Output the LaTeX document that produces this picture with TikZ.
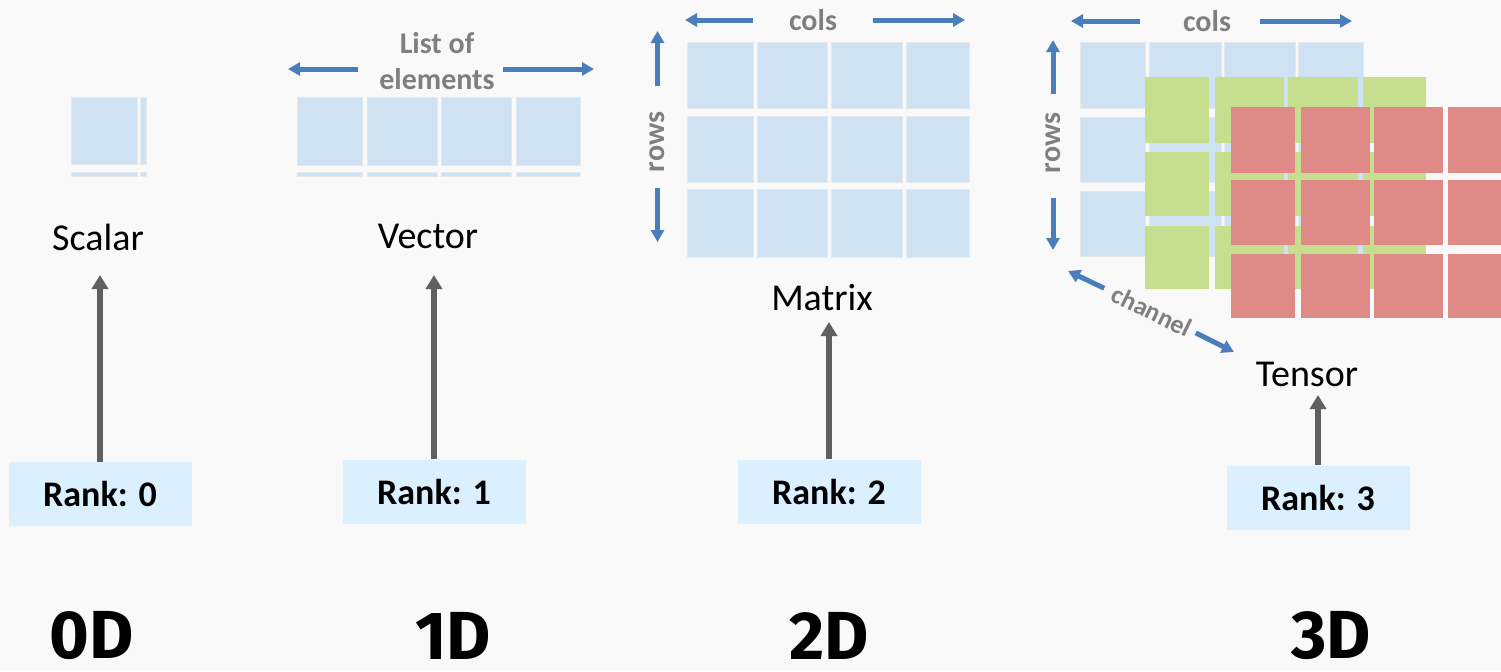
\documentclass[tikz,border=0pt]{standalone}
\usepackage{fontspec}
\setmainfont{Carlito}
\newfontfamily\dimfont{Fira Sans}
\usetikzlibrary{arrows.meta}
\definecolor{Paper}{HTML}{F9F9F9}
\definecolor{CellBlue}{HTML}{CFE2F3}
\definecolor{CellEdge}{HTML}{E6E9EC}
\definecolor{CellGreen}{HTML}{C5DF8F}
\definecolor{CellRed}{HTML}{E08A87}
\definecolor{RankFill}{HTML}{DBF0FE}
\definecolor{Shaft}{HTML}{606060}
\definecolor{Axis}{HTML}{4A7EBB}
\definecolor{Hint}{HTML}{7F7F7F}
\tikzset{
  cell/.style={fill=CellBlue, draw=CellEdge, line width=0.4pt},
  gcell/.style={fill=CellGreen},
  rcell/.style={fill=CellRed},
  kind/.style={font=\fontsize{19}{22}\selectfont, inner sep=0pt},
  rank/.style={fill=RankFill, minimum width=91.5pt, minimum height=32pt,
               inner sep=0pt, font=\bfseries\fontsize{18}{21}\selectfont},
  dim/.style={font=\dimfont\bfseries\fontsize{34}{37}\selectfont, inner sep=0pt},
  hint/.style={text=Hint, font=\bfseries\fontsize{15}{18}\selectfont,
               inner sep=0pt, align=center},
  riser/.style={-{Triangle[length=7pt,width=8pt]}, line width=3pt, draw=Shaft},
  axis/.style={-{Triangle[length=6pt,width=6.5pt]}, line width=2.5pt, draw=Axis},
}

\begin{document}
\begin{tikzpicture}[x=0.5pt, y=-0.5pt]
  \fill[Paper] (0,0) rectangle (1501,671);
  \useasboundingbox (0,0) rectangle (1501,671);

  % 0D
  \fill[cell] (71,97) rectangle (137,164);
  \fill[cell] (140,97) rectangle (146,164);
  \foreach \xa/\xb in {71/137,140/146}
    \fill[cell] (\xa,172) rectangle (\xb,176);
  % 1D
  \foreach \xa/\xb in {297/362,367/437,441/511,516/580} {
    \fill[cell] (\xa,97) rectangle (\xb,165);
    \fill[cell] (\xa,172) rectangle (\xb,176);
  }
  % 2D
  \foreach \xa/\xb in {687/753,757/827,831/902,906/969}
    \foreach \ya/\yb in {42/108,116/182,189/257}
      \fill[cell] (\xa,\ya) rectangle (\xb,\yb);
  % 3D
  \foreach \xa/\xb in {1080/1145,1149/1221,1224/1295,1298/1363}
    \foreach \ya/\yb in {42/108,117/182,191/256}
      \fill[cell] (\xa,\ya) rectangle (\xb,\yb);
  \foreach \xa/\xb in {1145/1209,1215/1284,1288/1358,1363/1426}
    \foreach \ya/\yb in {77/143,152/216,226/289}
      \fill[gcell] (\xa,\ya) rectangle (\xb,\yb);
  \foreach \xa/\xb in {1231/1295,1301/1370,1374/1443,1448/1501}
    \foreach \ya/\yb in {107/173,180/245,254/318}
      \fill[rcell] (\xa,\ya) rectangle (\xb,\yb);

  \node[kind] (scalar) at (98,237) {Scalar};
  \node[kind] (vector) at (428,236) {Vector};
  \node[kind] (matrix) at (822,298) {Matrix};
  \node[kind] (tensor) at (1307,374) {Tensor};

  \node[rank] (r0) at (100,494) {Rank: 0};
  \node[rank] (r1) at (434,491.5) {Rank: 1};
  \node[rank] (r2) at (829,491.5) {Rank: 2};
  \node[rank] (r3) at (1318,497.5) {Rank: 3};

  \node[dim] (d0) at (92,636) {0D};
  \node[dim] (d1) at (453,636) {1D};
  \node[dim] (d2) at (829,636) {2D};
  \node[dim] (d3) at (1331,636) {3D};

  \coordinate (t0) at (100,275);
  \coordinate (t1) at (434,275);
  \coordinate (t2) at (829,322);
  \coordinate (t3) at (1318,395);
  \draw[riser] (r0) -- (t0);
  \draw[riser] (r1) -- (t1);
  \draw[riser] (r2) -- (t2);
  \draw[riser] (r3) -- (t3);

  \node[hint] (list) at (437,61) {List of\\elements};
  \coordinate (listl) at (288,69);
  \coordinate (listr) at (594,69);
  \draw[axis] ([xshift=-10.5pt,yshift=-4pt]list.west) -- (listl);
  \draw[axis] ([xshift=4pt,yshift=-4pt]list.east) -- (listr);

  \node[hint] (cols2) at (813,20) {cols};
  \coordinate (c2l) at (685,20);
  \coordinate (c2r) at (965,20);
  \draw[axis, shorten <=18pt] (cols2) -- (c2l);
  \draw[axis, shorten <=18pt] (cols2) -- (c2r);
  \node[hint, rotate=90] (rows2) at (657.5,142) {rows};
  \coordinate (r2u) at (657.5,31);
  \coordinate (r2d) at (657.5,242);
  \draw[axis, shorten <=12.5pt] (rows2) -- (r2u);
  \draw[axis, shorten <=7.5pt] (rows2) -- (r2d);

  \node[hint] (cols3) at (1207,21) {cols};
  \coordinate (c3l) at (1071,21);
  \coordinate (c3r) at (1352,21);
  \draw[axis, shorten <=21.5pt] (cols3) -- (c3l);
  \draw[axis, shorten <=14.5pt] (cols3) -- (c3r);
  \node[hint, rotate=90] (rows3) at (1053,143) {rows};
  \coordinate (r3u) at (1053,40);
  \coordinate (r3d) at (1053,250);
  \draw[axis, shorten <=9pt] (rows3) -- (r3u);
  \draw[axis, shorten <=12pt] (rows3) -- (r3d);

  \node[hint, font=\bfseries\fontsize{13}{15}\selectfont, rotate=-26] (chan) at (1152,311) {channel};
  \coordinate (chl) at (1068,271);
  \coordinate (chr) at (1234,352);
  \draw[axis, shorten <=5pt] (chan) -- (chl);
  \draw[axis, shorten <=3pt] (chan) -- (chr);
\end{tikzpicture}
\end{document}
